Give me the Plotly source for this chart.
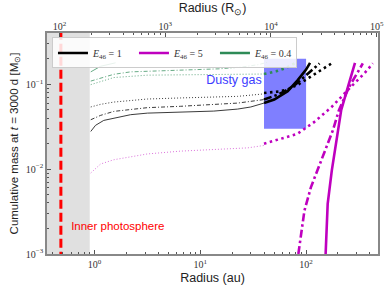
import plotly.graph_objects as go

# ---------------- data (radius in au, cumulative mass in Msun) ----------------
AU_IN_RSUN = 215.0

# E46 = 1 (black)
r_k_solid_in = [0.92, 1.02, 1.22, 1.52, 2.19, 3.16, 6.5, 13.4, 22.5, 30, 40]
m_k_solid_in = [0.0278, 0.0328, 0.0375, 0.040, 0.0438, 0.0457, 0.0467, 0.0483, 0.051, 0.054, 0.060]
r_k_solid_out = [40, 50, 67, 83, 100, 109]
m_k_solid_out = [0.060, 0.066, 0.083, 0.111, 0.149, 0.179]

r_k_dashdot_in = [0.92, 1.14, 1.52, 3.16, 6.5, 13.4, 22.5, 40]
m_k_dashdot_in = [0.0382, 0.043, 0.0479, 0.053, 0.055, 0.0575, 0.060, 0.066]
r_k_dashdot_out = [40, 55, 67, 80, 96, 115, 134]
m_k_dashdot_out = [0.066, 0.076, 0.0865, 0.10, 0.122, 0.148, 0.176]

r_k_dot_in = [0.92, 1.14, 1.52, 3.16, 6.5, 22.5, 40]
m_k_dot_in = [0.054, 0.058, 0.0617, 0.067, 0.069, 0.072, 0.077]
r_k_dot_out = [40, 55, 67, 85, 104, 135, 174]
m_k_dot_out = [0.079, 0.082, 0.0865, 0.10, 0.117, 0.145, 0.176]

# E46 = 0.4 (green)
r_g_solid = [0.92, 1.14, 1.58]
m_g_solid = [0.140, 0.163, 0.179]
r_g_dashdot = [0.92, 1.52, 2.19, 6.5, 15, 25, 35, 43]
m_g_dashdot = [0.109, 0.131, 0.140, 0.145, 0.152, 0.160, 0.170, 0.181]
r_g_dot_in = [0.92, 1.52, 3.16, 22.5, 40]
m_g_dot_in = [0.099, 0.12, 0.128, 0.131, 0.132]
r_g_dot_out = [40, 52, 65, 80]
m_g_dot_out = [0.132, 0.142, 0.156, 0.18]

# E46 = 5 (magenta)
r_m_dot_in = [0.92, 1.14, 1.52, 3.16, 6.5, 13.5, 28, 40]
m_m_dot_in = [0.0090, 0.0115, 0.0129, 0.0151, 0.0163, 0.0169, 0.0178, 0.019]
r_m_dot_out = [40, 56.6, 83, 119, 174, 247, 355, 428]
m_m_dot_out = [0.0199, 0.0228, 0.0261, 0.0358, 0.0538, 0.085, 0.134, 0.176]
r_m_dashdot = [84.5, 96.4, 111, 139, 179, 204, 255, 344]
m_m_dashdot = [0.001, 0.00323, 0.0061, 0.0126, 0.0286, 0.049, 0.093, 0.176]
r_m_solid = [153, 160, 175, 195, 215, 250, 290]
m_m_solid = [0.001, 0.0039, 0.0096, 0.0238, 0.05, 0.095, 0.179]

# regions
r_inner_excluded = [0.3, 0.9]
r_photosphere = 0.48
r_dusty = [40, 100]
m_dusty = [0.03, 0.2]

legend_labels = ["<i>E</i><sub>46</sub> = 1", "<i>E</i><sub>46</sub> = 5", "<i>E</i><sub>46</sub> = 0.4"]
legend_colors = ["black", "#bf00bf", "#2e8b57"]

xrange_log = [-0.45, 2.68]
yrange_log = [-3, -0.396]

BLACK, MAG, GREEN = "black", "#bf00bf", "#2e8b57"
THIN, THICK = 0.9, 2.6
DOT_THIN, DD_THIN = "1px,2px", "4px,2px,1px,2px"
DOT_THICK, DD_THICK = "2.5px,3.5px", "8px,3px,2.5px,3px"

fig = go.Figure()

# grey excluded region
fig.add_trace(go.Scatter(
    x=[r_inner_excluded[0], r_inner_excluded[1], r_inner_excluded[1], r_inner_excluded[0]],
    y=[1e-4, 1e-4, 1, 1], fill="toself", fillcolor="#e0e0e0",
    line=dict(width=0), mode="lines", showlegend=False, hoverinfo="skip"))

# dusty gas box
fig.add_trace(go.Scatter(
    x=[r_dusty[0], r_dusty[1], r_dusty[1], r_dusty[0]],
    y=[m_dusty[0], m_dusty[0], m_dusty[1], m_dusty[1]], fill="toself",
    fillcolor="rgba(0,0,255,0.5)", line=dict(width=0), mode="lines",
    showlegend=False, hoverinfo="skip"))

# photosphere line
fig.add_trace(go.Scatter(x=[r_photosphere, r_photosphere], y=[1e-4, 1], mode="lines",
                         line=dict(color="red", width=3, dash="9px,4px"),
                         showlegend=False, hoverinfo="skip"))


def add(r, m, color, width, dash, opacity=1.0):
    fig.add_trace(go.Scatter(x=r, y=m, mode="lines", opacity=opacity,
                             line=dict(color=color, width=width, dash=dash),
                             showlegend=False, hoverinfo="skip"))


# green
add(r_g_solid, m_g_solid, GREEN, THIN, "solid", 0.8)
add(r_g_dashdot, m_g_dashdot, GREEN, THIN, DD_THIN, 0.8)
add(r_g_dot_in, m_g_dot_in, GREEN, THIN, DOT_THIN, 0.8)
add(r_g_dot_out, m_g_dot_out, GREEN, THICK, DOT_THICK)
# black
add(r_k_solid_in, m_k_solid_in, BLACK, THIN, "solid", 0.85)
add(r_k_solid_out, m_k_solid_out, BLACK, THICK, "solid")
add(r_k_dashdot_in, m_k_dashdot_in, BLACK, THIN, DD_THIN, 0.85)
add(r_k_dashdot_out, m_k_dashdot_out, BLACK, THICK, DD_THICK)
add(r_k_dot_in, m_k_dot_in, BLACK, THIN, DOT_THIN, 0.85)
add(r_k_dot_out, m_k_dot_out, BLACK, THICK, DOT_THICK)
# magenta
add(r_m_dot_in, m_m_dot_in, MAG, THIN, DOT_THIN, 0.6)
add(r_m_dot_out, m_m_dot_out, MAG, THICK, DOT_THICK)
add(r_m_dashdot, m_m_dashdot, MAG, THICK, DD_THICK)
add(r_m_solid, m_m_solid, MAG, THICK, "solid")

# legend entries
for lab, col in zip(legend_labels, legend_colors):
    fig.add_trace(go.Scatter(x=[None], y=[None], mode="lines", name=lab,
                             line=dict(color=col, width=2.5)))

# text labels
fig.add_trace(go.Scatter(x=[20.8], y=[0.111], mode="text", text=["Dusty gas"],
                         textfont=dict(color="#3c3cff", size=12.5, family="Liberation Sans"),
                         showlegend=False, hoverinfo="skip"))
fig.add_trace(go.Scatter(x=[0.6], y=[0.0021], mode="text", text=["Inner photosphere"],
                         textposition="middle right",
                         textfont=dict(color="red", size=11.5, family="Liberation Sans"),
                         showlegend=False, hoverinfo="skip"))

# invisible trace for the top (solar radius) axis
fig.add_trace(go.Scatter(x=[1e3], y=[0.01], xaxis="x2", mode="markers",
                         marker=dict(opacity=0), showlegend=False, hoverinfo="skip"))

tickfont = dict(family="Liberation Serif", size=10, color="#333")
minor_x = [0.4, 0.5, 0.6, 0.7, 0.8, 0.9] + [i for i in range(2, 10)] + \
          [10 * i for i in range(2, 10)] + [100 * i for i in range(2, 5)]
minor_x2 = [100 * i for i in range(2, 10)] + [1000 * i for i in range(2, 10)] + \
           [10000 * i for i in range(2, 10)]
minor_y = [i * 1e-3 for i in range(2, 10)] + [i * 1e-2 for i in range(2, 10)] + \
          [i * 1e-1 for i in range(2, 5)]

fig.update_layout(
    width=389, height=292,
    margin=dict(l=47, r=11, t=33, b=38, autoexpand=False),
    paper_bgcolor="white", plot_bgcolor="white",
    showlegend=True,
    legend=dict(orientation="h", x=0.015, y=0.98, xanchor="left", yanchor="top",
                bgcolor="rgba(255,255,255,0.85)", bordercolor="#cccccc", borderwidth=1,
                font=dict(family="Liberation Serif", size=10, color="#333"),
                entrywidth=36, itemwidth=30, tracegroupgap=0),
    xaxis=dict(type="log", range=xrange_log, showgrid=False, zeroline=False, automargin=False,
               tickvals=[1, 10, 100], ticktext=["10<sup>0</sup>", "10<sup>1</sup>", "10<sup>2</sup>"],
               ticks="inside", ticklen=4, tickcolor="#555", tickfont=tickfont,
               minor=dict(tickvals=minor_x, ticks="inside", ticklen=2, tickcolor="#555"),
               showline=True, linecolor="#888", linewidth=1.5, mirror=True,
               title=dict(text="Radius (au)", font=dict(family="Liberation Sans", size=12.5, color="#222"),
                          standoff=4)),
    xaxis2=dict(type="log", overlaying="x", side="top", automargin=False,
                range=[xrange_log[0] + 2.3324, xrange_log[1] + 2.3324],
                showgrid=False, zeroline=False,
                tickvals=[1e2, 1e3, 1e4, 1e5],
                ticktext=["10<sup>2</sup>", "10<sup>3</sup>", "10<sup>4</sup>", "10<sup>5</sup>"],
                ticks="inside", ticklen=4, tickcolor="#555", tickfont=tickfont,
                minor=dict(tickvals=minor_x2, ticks="inside", ticklen=2, tickcolor="#555"),
                title=dict(text="Radius (R<sub>⊙</sub>)",
                           font=dict(family="Liberation Sans", size=12.5, color="#222"), standoff=4)),
    yaxis=dict(type="log", range=yrange_log, showgrid=False, zeroline=False, automargin=False,
               tickvals=[1e-3, 1e-2, 1e-1],
               ticktext=["10<sup>−3</sup>", "10<sup>−2</sup>", "10<sup>−1</sup>"],
               ticks="inside", ticklen=4, tickcolor="#555", tickfont=tickfont,
               minor=dict(tickvals=minor_y, ticks="inside", ticklen=2, tickcolor="#555"),
               showline=True, linecolor="#888", linewidth=1.5, mirror=True,
               title=dict(text="Cumulative mass at <i>t</i> = 3000 d [M<sub>⊙</sub>]",
                          font=dict(family="Liberation Sans", size=11.5, color="#222"), standoff=5)),
)

fig.write_html("out.html", config={"displayModeBar": False},
               post_script="document.body.style.margin='0';document.body.style.padding='0';")
